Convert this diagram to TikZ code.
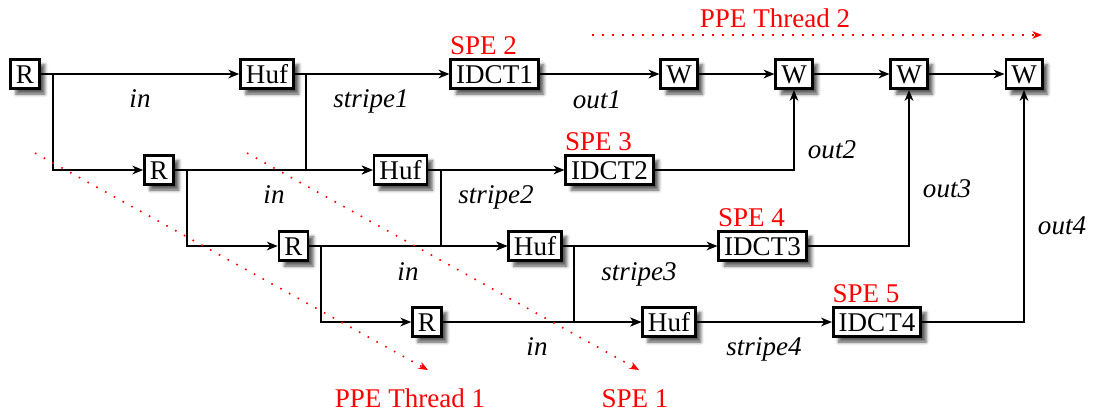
\documentclass[tikz,border=0pt]{standalone}
\usepackage{fontspec}
\setmainfont{Liberation Serif}[ItalicFont={Liberation Serif Italic}, BoldFont={Liberation Serif Bold}]
\usetikzlibrary{arrows.meta,shadows.blur}
\tikzset{
  blk/.style={draw, line width=1pt, fill=white, inner sep=2pt, text height=6.8pt, text depth=0pt,
    blur shadow={shadow xshift=2pt, shadow yshift=-2pt, shadow blur radius=1.2pt, shadow opacity=65}},
  flow/.style={thick, -{Stealth[length=4pt,width=3.2pt,inset=1.2pt]}},
  lbl/.style={font=\itshape, anchor=base, inner sep=0pt},
  spe/.style={red, inner xsep=0pt, inner ysep=1pt, anchor=south west},
  ppe/.style={red, anchor=base, inner sep=0pt},
  thread/.style={red, line width=0.6pt, dash pattern=on 0.6pt off 3.1pt, -{Stealth[length=3.5pt,width=2.8pt,inset=1pt]}}
}
\begin{document}
\begin{tikzpicture}[x=0.37pt, y=-0.37pt]
	\useasboundingbox (0,0) rectangle (1096,414);

	\node[blk] (r0) at (25,74) {R};
	\node[blk] (huf1) at (267,74) {Huf};
	\node[blk] (idct1) at (494.5,74) {IDCT1};
	\node[blk] (w1) at (679,74) {W};
	\node[blk] (w2) at (794,74) {W};
	\node[blk] (w3) at (909,74) {W};
	\node[blk] (w4) at (1024,74) {W};
	\node[blk] (r1) at (159,170) {R};
	\node[blk] (huf2) at (400.5,170) {Huf};
	\node[blk] (idct2) at (609.5,170) {IDCT2};
	\node[blk] (r2) at (293.5,246) {R};
	\node[blk] (huf3) at (535,246) {Huf};
	\node[blk] (idct3) at (762.5,246) {IDCT3};
	\node[blk] (r3) at (427,322) {R};
	\node[blk] (huf4) at (669,322) {Huf};
	\node[blk] (idct4) at (877,322) {IDCT4};

	\node[spe] (spe2) at (idct1.north west) {SPE 2};
	\node[spe] (spe3) at (idct2.north west) {SPE 3};
	\node[spe] (spe4) at (idct3.north west) {SPE 4};
	\node[spe] (spe5) at (idct4.north west) {SPE 5};

	\draw[flow] (r0) -- (huf1);
	\draw[flow] (huf1) -- (idct1);
	\draw[flow] (idct1) -- (w1);
	\draw[flow] (w1) -- (w2);
	\draw[flow] (w2) -- (w3);
	\draw[flow] (w3) -- (w4);
	\draw[flow] (r1) -- (huf2);
	\draw[flow] (huf2) -- (idct2);
	\draw[flow] (r2) -- (huf3);
	\draw[flow] (huf3) -- (idct3);
	\draw[flow] (r3) -- (huf4);
	\draw[flow] (huf4) -- (idct4);
	\draw[flow] (idct2) -| (w2);
	\draw[flow] (idct3) -| (w3);
	\draw[flow] (idct4) -| (w4);

	\coordinate (a0) at (53,74);
	\coordinate (a1) at (187,170);
	\coordinate (a2) at (321,246);
	\coordinate (s1) at (306,74);
	\coordinate (s2) at (441,170);
	\coordinate (s3) at (574,246);
	\draw[flow] (a0) |- (r1);
	\draw[flow] (a1) |- (r2);
	\draw[flow] (a2) |- (r3);
	\draw[flow] (s1) |- (huf2);
	\draw[flow] (s2) |- (huf3);
	\draw[flow] (s3) |- (huf4);

	\node[lbl] (in1) at (140,107) {in};
	\node[lbl] (stripe1) at (371,107) {stripe1};
	\node[lbl] (out1) at (597,108) {out1};
	\node[lbl] (in2) at (274,203) {in};
	\node[lbl] (stripe2) at (496,203) {stripe2};
	\node[lbl] (out2) at (832,158) {out2};
	\node[lbl] (out3) at (947,197) {out3};
	\node[lbl] (in3) at (408,280) {in};
	\node[lbl] (stripe3) at (639,280) {stripe3};
	\node[lbl] (out4) at (1062,234) {out4};
	\node[lbl] (in4) at (537,355) {in};
	\node[lbl] (stripe4) at (764,355) {stripe4};

	\coordinate (t2a) at (592,35);
	\coordinate (t2b) at (1042,35);
	\coordinate (t1a) at (35,153);
	\coordinate (t1b) at (428,370);
	\coordinate (t3a) at (247,153);
	\coordinate (t3b) at (639,370);
	\draw[thread] (t2a) -- (t2b);
	\draw[thread] (t1a) -- (t1b);
	\draw[thread] (t3a) -- (t3b);
	\node[ppe] (ppe2) at (775,27) {PPE Thread 2};
	\node[ppe] (ppe1) at (410,407) {PPE Thread 1};
	\node[ppe] (spe1) at (635,407) {SPE 1};
\end{tikzpicture}
\end{document}
